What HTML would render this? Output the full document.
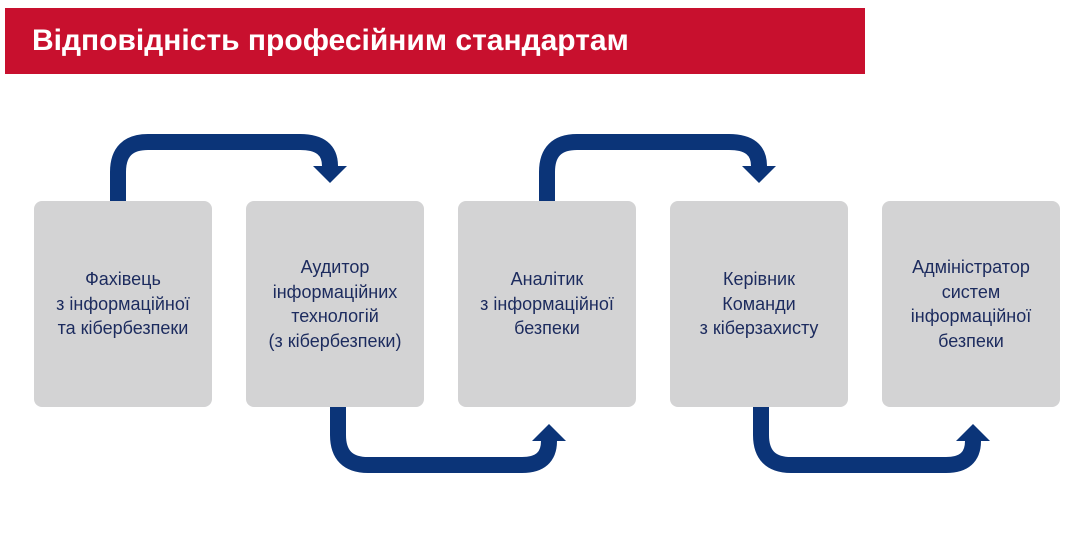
<!DOCTYPE html>
<html><head><meta charset="utf-8"><style>
body{margin:0;width:1092px;height:550px;background:#fff;position:relative;overflow:hidden;font-family:"Liberation Sans","DejaVu Sans",sans-serif}
.hdr{position:absolute;left:5px;top:8px;width:860px;height:66px;background:#c8102e;color:#fff;font-weight:bold;font-size:30px;line-height:66px;padding-left:27px;box-sizing:border-box}
.box{position:absolute;top:201px;width:178px;height:206px;background:#d3d3d4;border-radius:8px;display:flex;align-items:center;justify-content:center;text-align:center;color:#1c2b5e;font-size:18px;line-height:24.5px}
svg{position:absolute;left:0;top:0}
</style></head><body>
<div class="hdr">Відповідність професійним стандартам</div>
<div class="box" style="left:34px">Фахівець<br>з інформаційної<br>та кібербезпеки</div>
<div class="box" style="left:246px">Аудитор<br>інформаційних<br>технологій<br>(з кібербезпеки)</div>
<div class="box" style="left:458px">Аналітик<br>з інформаційної<br>безпеки</div>
<div class="box" style="left:670px">Керівник<br>Команди<br>з кіберзахисту</div>
<div class="box" style="left:882px">Адміністратор<br>систем<br>інформаційної<br>безпеки</div>
<svg width="1092" height="550">
<g fill="none" stroke="#0b3478" stroke-width="16">
<path d="M118 201 V172 Q118 142 148 142 H300 Q330 142 330 166 V168"/>
<path d="M547 201 V172 Q547 142 577 142 H729 Q759 142 759 166 V168"/>
<path d="M338 407 V435 Q338 465 368 465 H522 Q549 465 549 441 V440"/>
<path d="M761 407 V435 Q761 465 791 465 H946 Q973 465 973 441 V440"/>
</g>
<g fill="#0b3478">
<polygon points="313,166 347,166 330,183"/>
<polygon points="742,166 776,166 759,183"/>
<polygon points="532,441 566,441 549,424"/>
<polygon points="956,441 990,441 973,424"/>
</g>
</svg>
</body></html>
